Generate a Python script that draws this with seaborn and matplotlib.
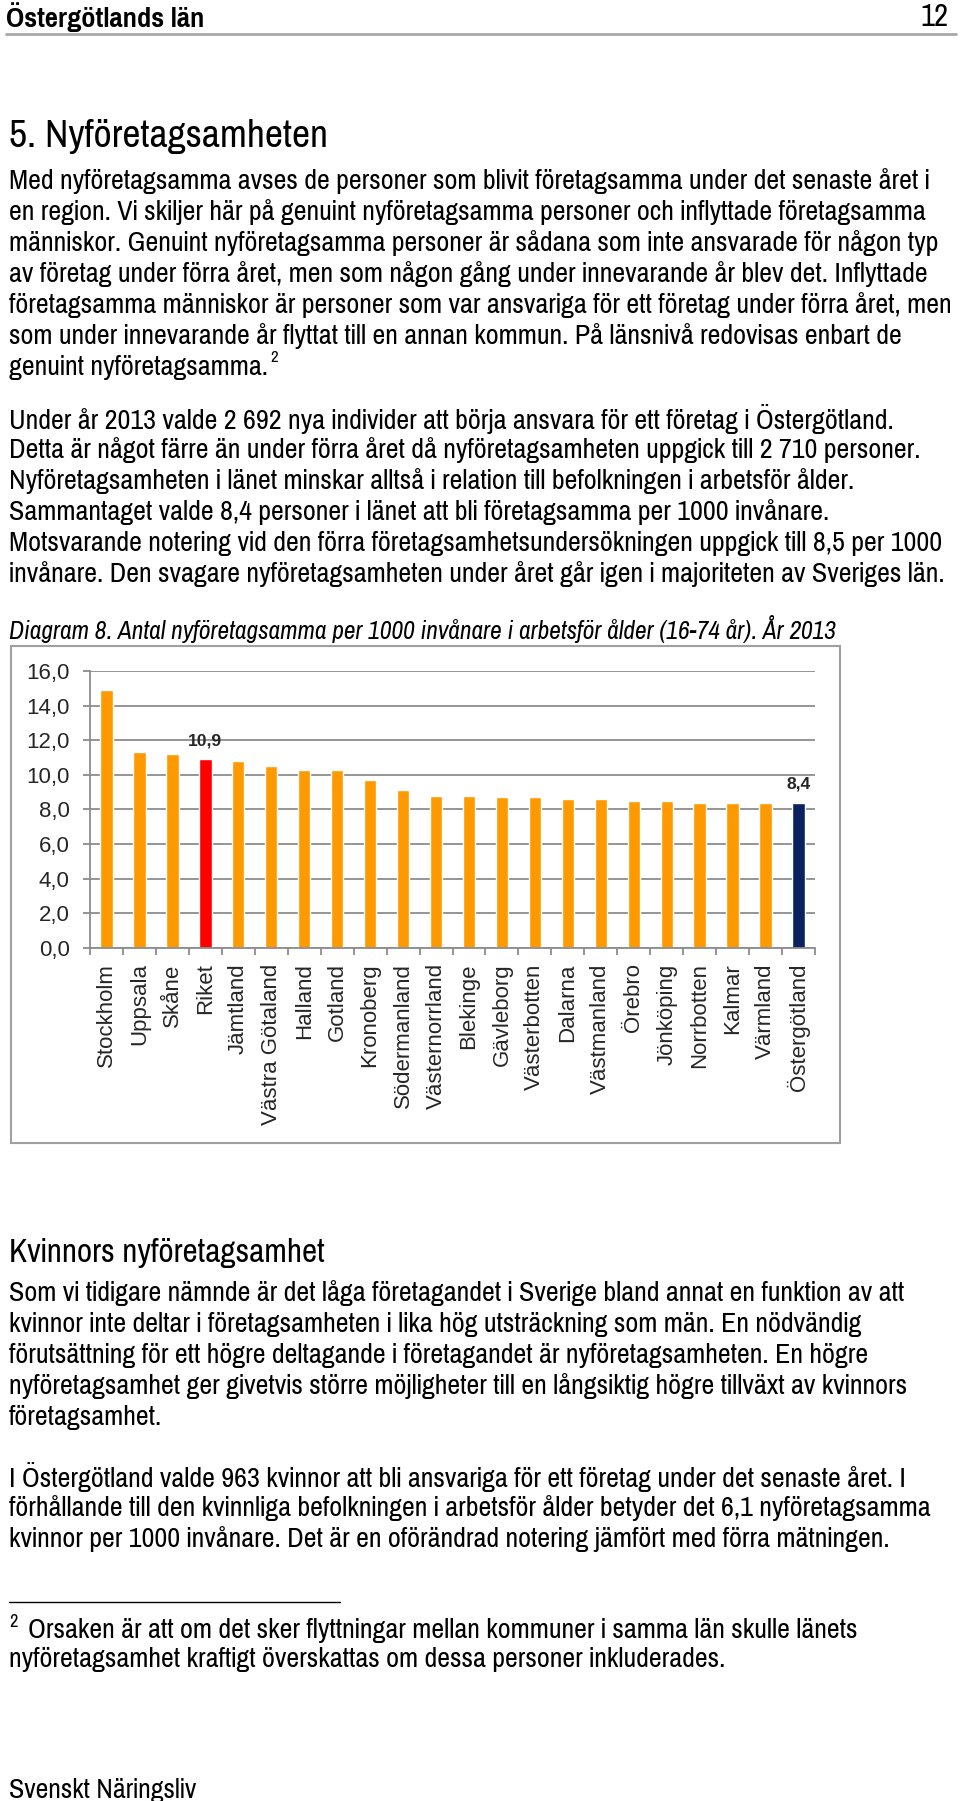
import matplotlib
matplotlib.use("Agg")
import matplotlib.pyplot as plt
import seaborn as sns
import pandas as pd
from matplotlib.patches import Rectangle
from matplotlib.lines import Line2D
from matplotlib.ticker import FuncFormatter

# --- chart data -------------------------------------------------------------
regions = ["Stockholm", "Uppsala", "Skåne", "Riket", "Jämtland", "Västra Götaland",
           "Halland", "Gotland", "Kronoberg", "Södermanland", "Västernorrland",
           "Blekinge", "Gävleborg", "Västerbotten", "Dalarna", "Västmanland",
           "Örebro", "Jönköping", "Norrbotten", "Kalmar", "Värmland", "Östergötland"]
per_1000 = [14.9, 11.3, 11.2, 10.9, 10.8, 10.5, 10.3, 10.3, 9.7, 9.1, 8.8,
            8.8, 8.7, 8.7, 8.6, 8.6, 8.5, 8.5, 8.4, 8.4, 8.4, 8.4]
highlighted = {"Riket": "#ff0000", "Östergötland": "#0b2261"}
value_labels = {"Riket": "10,9", "Östergötland": "8,4"}
y_ticks = [0, 2, 4, 6, 8, 10, 12, 14, 16]

# --- page text --------------------------------------------------------------
header = "Östergötlands län"
page_no = "12"
title = "5. Nyföretagsamheten"
para1 = [
    "Med nyföretagsamma avses de personer som blivit företagsamma under det senaste året i",
    "en region. Vi skiljer här på genuint nyföretagsamma personer och inflyttade företagsamma",
    "människor. Genuint nyföretagsamma personer är sådana som inte ansvarade för någon typ",
    "av företag under förra året, men som någon gång under innevarande år blev det. Inflyttade",
    "företagsamma människor är personer som var ansvariga för ett företag under förra året, men",
    "som under innevarande år flyttat till en annan kommun. På länsnivå redovisas enbart de",
    "genuint nyföretagsamma.",
]
para2 = [
    "Under år 2013 valde 2 692 nya individer att börja ansvara för ett företag i Östergötland.",
    "Detta är något färre än under förra året då nyföretagsamheten uppgick till 2 710 personer.",
    "Nyföretagsamheten i länet minskar alltså i relation till befolkningen i arbetsför ålder.",
    "Sammantaget valde 8,4 personer i länet att bli företagsamma per 1000 invånare.",
    "Motsvarande notering vid den förra företagsamhetsundersökningen uppgick till 8,5 per 1000",
    "invånare. Den svagare nyföretagsamheten under året går igen i majoriteten av Sveriges län.",
]
caption = "Diagram 8. Antal nyföretagsamma per 1000 invånare i arbetsför ålder (16-74 år). År 2013"
heading2 = "Kvinnors nyföretagsamhet"
para3 = [
    "Som vi tidigare nämnde är det låga företagandet i Sverige bland annat en funktion av att",
    "kvinnor inte deltar i företagsamheten i lika hög utsträckning som män. En nödvändig",
    "förutsättning för ett högre deltagande i företagandet är nyföretagsamheten. En högre",
    "nyföretagsamhet ger givetvis större möjligheter till en långsiktig högre tillväxt av kvinnors",
    "företagsamhet.",
]
para4 = [
    "I Östergötland valde 963 kvinnor att bli ansvariga för ett företag under det senaste året. I",
    "förhållande till den kvinnliga befolkningen i arbetsför ålder betyder det 6,1 nyföretagsamma",
    "kvinnor per 1000 invånare. Det är en oförändrad notering jämfört med förra mätningen.",
]
footnote = [
    "Orsaken är att om det sker flyttningar mellan kommuner i samma län skulle länets",
    "nyföretagsamhet kraftigt överskattas om dessa personer inkluderades.",
]
footer = "Svenskt Näringsliv"

sns.set_theme(style="white")
# the page text is set in a narrow grotesque, the chart in plain Arial-like type
TEXT_FONT = ["Pragati Narrow", "Liberation Sans", "DejaVu Sans"]
ITALIC_FONT = ["Archivo Narrow", "Roboto Condensed", "Liberation Sans", "DejaVu Sans"]
CHART_FONT = ["Liberation Sans", "DejaVu Sans"]
plt.rcParams["font.family"] = CHART_FONT

W, H = 960, 1801
GRID = "#8c8c8c"
ORANGE = "#ff9900"

fig = plt.figure(figsize=(W / 100, H / 100), dpi=100)
renderer = fig.canvas.get_renderer()


def fit_size(s, width, family=TEXT_FONT, **kw):
    """Font size that makes s about width pixels wide."""
    t = fig.text(0, 0, s, fontsize=20, family=family, **kw)
    w = t.get_window_extent(renderer).width
    t.remove()
    return 20 * width / w


def put(x, y, s, size, family=TEXT_FONT, **kw):
    return fig.text(x / W, 1 - y / H, s, fontsize=size, family=family,
                    va="center", color="black", **kw)


body = min(fit_size(line, 944) for line in para1 + para2 + para3 + para4)

put(6, 17, header, fit_size(header, 198, weight="bold"), weight="bold")
put(949, 17, page_no, body * 1.1, ha="right")
fig.add_artist(Line2D([6 / W, 956 / W], [1 - 34 / H] * 2, color="#a8a8a8", lw=2))
put(9, 136, title, fit_size(title, 319))

for i, line in enumerate(para1):
    t = put(9, 181 + i * 31, line, body)
fig.canvas.draw()
bb = t.get_window_extent(renderer)
put(bb.x1 + 2, 181 + 6 * 31 - 10, "2", body * 0.6)

for i, line in enumerate(para2):
    put(9, 419 + i * 31, line, body)

cap_size = fit_size(caption, 827, family=ITALIC_FONT, style="italic")
put(9, 629, caption, cap_size, family=ITALIC_FONT, style="italic")

put(9, 1253, heading2, fit_size(heading2, 316))
for i, line in enumerate(para3):
    put(9, 1293 + i * 31, line, body)
for i, line in enumerate(para4):
    put(9, 1477 + i * 31, line, body)

fig.add_artist(Line2D([9 / W, 340 / W], [1 - 1602 / H] * 2, color="black", lw=1))
put(9, 1622, "2", body * 0.65)
put(28, 1630, footnote[0], body)
put(9, 1659, footnote[1], body)
put(9, 1790, footer, fit_size(footer, 188))

# --- chart ------------------------------------------------------------------
fig.add_artist(Rectangle((11 / W, 1 - 1143 / H), (840 - 11) / W, (1143 - 646) / H,
                         transform=fig.transFigure, fill=False, ec="#a0a0a0", lw=1.5))

ax = fig.add_axes([90 / W, 1 - 948 / H, (815 - 90) / W, (948 - 671) / H])
df = pd.DataFrame({"region": regions, "value": per_1000})
palette = {r: highlighted.get(r, ORANGE) for r in regions}
sns.barplot(data=df, x="region", y="value", hue="region", palette=palette,
            width=0.375, saturation=1, legend=False, ax=ax)

for patch, r in zip(ax.patches, regions):
    if r in value_labels:
        ax.annotate(value_labels[r], (patch.get_x() + patch.get_width() / 2, patch.get_height()),
                    xytext=(0, 8), textcoords="offset points", ha="center", va="bottom",
                    fontsize=12.6, fontweight="bold")

ax.set_xlim(-0.5, len(regions) - 0.5)
ax.set_ylim(0, 16)
ax.set_yticks(y_ticks)
ax.yaxis.set_major_formatter(FuncFormatter(lambda v, _: f"{v:.1f}".replace(".", ",")))
ax.set_xticks(range(len(regions)))
ax.set_xticklabels(regions, rotation=90)
ax.set_xticks([i - 0.5 for i in range(len(regions) + 1)], minor=True)
ax.set_xlabel("")
ax.set_ylabel("")

ax.yaxis.grid(True, color=GRID, lw=1.3)
ax.set_axisbelow(True)
for side in ["top", "right"]:
    ax.spines[side].set_visible(False)
for side in ["left", "bottom"]:
    ax.spines[side].set_color(GRID)
    ax.spines[side].set_linewidth(1.3)

ax.tick_params(axis="y", length=5, width=1.3, color=GRID, pad=9.5, labelsize=16,
               left=True, direction="out")
ax.tick_params(axis="x", which="major", length=0, pad=11, labelsize=16)
ax.tick_params(axis="x", which="minor", length=5, width=1.3, color=GRID,
               bottom=True, direction="out")

fig.savefig("out.png", dpi=100)
